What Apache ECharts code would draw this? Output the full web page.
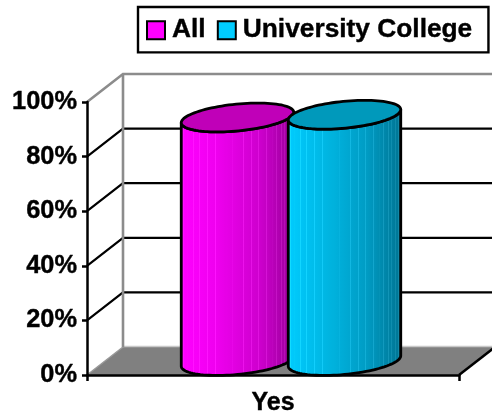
<!DOCTYPE html>
<html><head><meta charset="utf-8">
<style>html,body{margin:0;padding:0;background:#fff}#c{width:492px;height:414px}</style>
<script src="https://cdn.jsdelivr.net/npm/echarts@6/dist/echarts.min.js"></script>
</head><body><div id="c"></div>
<script>
const categories = ['Yes'];
const allValues = [89.2];
const universityValues = [90.2];
const gridValues = [0, 20, 40, 60, 80, 100];
const seriesNames = ['All', 'University College'];

const FONT = '"Liberation Sans", Arial, sans-serif';
const DEPTH_X = 36, DEPTH_Y = 28;
const RX = 56.5, RY = 13.4, TILT = 5.6 * Math.PI / 180, HALF_GAP = 53.5;
const STREAKS = [0.03,0.07,0.12,0.17,0.24,0.31,0.4,0.46,0.55,0.62,0.68,0.75,0.8,0.84,0.88,0.91,0.94,0.97];

function rgb(c) { return 'rgb(' + c.map(Math.round).join(',') + ')'; }
function shade(ramp) {
  const at = f => {
    for (let i = 1; i < ramp.length; i++) if (f <= ramp[i][0]) {
      const t = (f - ramp[i-1][0]) / (ramp[i][0] - ramp[i-1][0]);
      return ramp[i-1][1].map((v, k) => v + (ramp[i][1][k] - v) * t);
    }
    return ramp[ramp.length-1][1];
  };
  const stops = [{offset: 0, color: rgb(at(0))}];
  STREAKS.forEach(f => {
    const base = at(f), light = base.map(v => Math.min(255, v + 18));
    stops.push({offset: f - 0.004, color: rgb(base)});
    stops.push({offset: f - 0.002, color: rgb(light)});
    stops.push({offset: f + 0.002, color: rgb(light)});
    stops.push({offset: f + 0.004, color: rgb(base)});
  });
  stops.push({offset: 1, color: rgb(at(1))});
  return new echarts.graphic.LinearGradient(0, 0, 1, 0, stops);
}
function ellipsePoint(cx, cy, t) {
  return [cx + RX * Math.cos(t) * Math.cos(TILT) + RY * Math.sin(t) * Math.sin(TILT),
          cy - RX * Math.cos(t) * Math.sin(TILT) + RY * Math.sin(t) * Math.cos(TILT)];
}
function cylinder(side, ramp, topColor) {
  return function (params, api) {
    const i = api.value(0), v = api.value(1);
    const base = api.coord([i, 0]), top = api.coord([i, v]);
    const cx = base[0] + DEPTH_X / 2 + side * HALF_GAP;
    const by = base[1] - DEPTH_Y / 2, ty = top[1] - DEPTH_Y / 2;
    const t0 = Math.atan2(RY * Math.sin(TILT), RX * Math.cos(TILT));
    const body = [], lid = [];
    for (let k = 0; k <= 48; k++) body.push(ellipsePoint(cx, by, t0 + Math.PI * k / 48));
    for (let k = 0; k <= 48; k++) body.push(ellipsePoint(cx, ty, t0 + Math.PI - Math.PI * k / 48));
    for (let k = 0; k < 96; k++) lid.push(ellipsePoint(cx, ty, 2 * Math.PI * k / 96));
    return {type: 'group', children: [
      {type: 'polygon', shape: {points: body}, style: {fill: shade(ramp), stroke: '#000', lineWidth: 2.8, lineJoin: 'round'}},
      {type: 'polygon', shape: {points: lid}, style: {fill: topColor, stroke: '#000', lineWidth: 2.8}}
    ]};
  };
}
function walls(params, api) {
  const v = api.value(0);
  const size = api.size([1, 0])[0];
  const a = api.coord([0, v]);
  const left = a[0] - size / 2, right = a[0] + size / 2;
  const xEnd = api.getWidth();
  const back = [left + DEPTH_X, a[1] - DEPTH_Y];
  const children = [];
  if (v === 0) {
    children.push({type: 'polygon', shape: {points: [[left, a[1]], [right, a[1]], [right + DEPTH_X, back[1]], [back[0], back[1]]]}, style: {fill: '#808080', stroke: null}});
    children.push({type: 'line', shape: {x1: back[0], y1: back[1] - 0.5, x2: xEnd, y2: back[1] - 0.5}, style: {stroke: '#c8c8c8', lineWidth: 1.5}});
    children.push({type: 'line', shape: {x1: left, y1: a[1], x2: back[0], y2: back[1]}, style: {stroke: '#999', lineWidth: 1.5}});
    children.push({type: 'line', shape: {x1: right, y1: a[1], x2: right + DEPTH_X, y2: back[1]}, style: {stroke: '#000', lineWidth: 2.5}});
  } else {
    const c = v === 100 ? '#8c8c8c' : '#000';
    children.push({type: 'polyline', shape: {points: [[left, a[1]], back, [xEnd, back[1]]]}, style: {stroke: c, lineWidth: v === 100 ? 2.6 : 2.2, fill: null}});
  }
  if (v === 100) {
    const b0 = api.coord([0, 0])[1] - DEPTH_Y;
    children.push({type: 'line', shape: {x1: back[0], y1: back[1], x2: back[0], y2: b0}, style: {stroke: '#8c8c8c', lineWidth: 2.6}});
  }
  return {type: 'group', children};
}

const chart = echarts.init(document.getElementById('c'), null, {renderer: 'canvas'});
chart.setOption({
  animation: false,
  backgroundColor: '#fff',
  grid: {left: 87, top: 102, width: 372, height: 273, containLabel: false, outerBoundsMode: 'none'},
  legend: {
    left: 138, top: 7, orient: 'horizontal', data: seriesNames,
    backgroundColor: '#fff', borderColor: '#000', borderWidth: 2.4, padding: [10, 16, 9, 8],
    itemWidth: 18, itemHeight: 18, itemGap: 11, selectedMode: false, icon: 'rect',
    textStyle: {fontFamily: FONT, fontWeight: 'bold', fontSize: 26.3, color: '#000', textBorderColor: '#000', textBorderWidth: 0.4, padding: [2, 0, 0, 2]}
  },
  xAxis: {
    type: 'category', data: categories, z: 10,
    axisLine: {lineStyle: {color: '#000', width: 2.5}},
    axisTick: {show: true, alignWithLabel: false, length: 6, lineStyle: {color: '#000', width: 2.5}},
    axisLabel: {fontFamily: FONT, fontWeight: 'bold', fontSize: 25, color: '#000', margin: 16, textBorderColor: '#000', textBorderWidth: 0.4},
    splitLine: {show: false}
  },
  yAxis: {
    type: 'value', min: 0, max: 100, interval: 20, z: 10,
    axisLine: {show: true, lineStyle: {color: '#000', width: 2.5}},
    axisTick: {show: true, length: 5, lineStyle: {color: '#000', width: 2.5}},
    axisLabel: {formatter: '{value}%', fontFamily: FONT, fontWeight: 'bold', fontSize: 25.4, color: '#000', margin: 10, padding: [3, 0, 0, 0], textBorderColor: '#000', textBorderWidth: 0.4},
    splitLine: {show: false}
  },
  series: [
    {type: 'custom', name: 'walls', silent: true, z: 1, clip: false, renderItem: walls, encode: {y: 0},
     data: gridValues.map(v => [v])},
    {type: 'custom', name: seriesNames[0], z: 2, clip: false,
     itemStyle: {color: '#ff00ff', borderColor: '#000', borderWidth: 2.4},
     renderItem: cylinder(-1, [[0, [255,0,255]], [0.3, [240,0,240]], [0.7, [205,0,205]], [1, [150,0,150]]], '#c000b8'),
     encode: {x: 0, y: 1}, data: allValues.map((v, i) => [i, v])},
    {type: 'custom', name: seriesNames[1], z: 3, clip: false,
     itemStyle: {color: '#00ccff', borderColor: '#000', borderWidth: 2.4},
     renderItem: cylinder(1, [[0, [0,204,255]], [0.3, [0,185,230]], [0.7, [0,155,195]], [1, [0,115,145]]], '#0099bb'),
     encode: {x: 0, y: 1}, data: universityValues.map((v, i) => [i, v])}
  ]
});
</script></body></html>
